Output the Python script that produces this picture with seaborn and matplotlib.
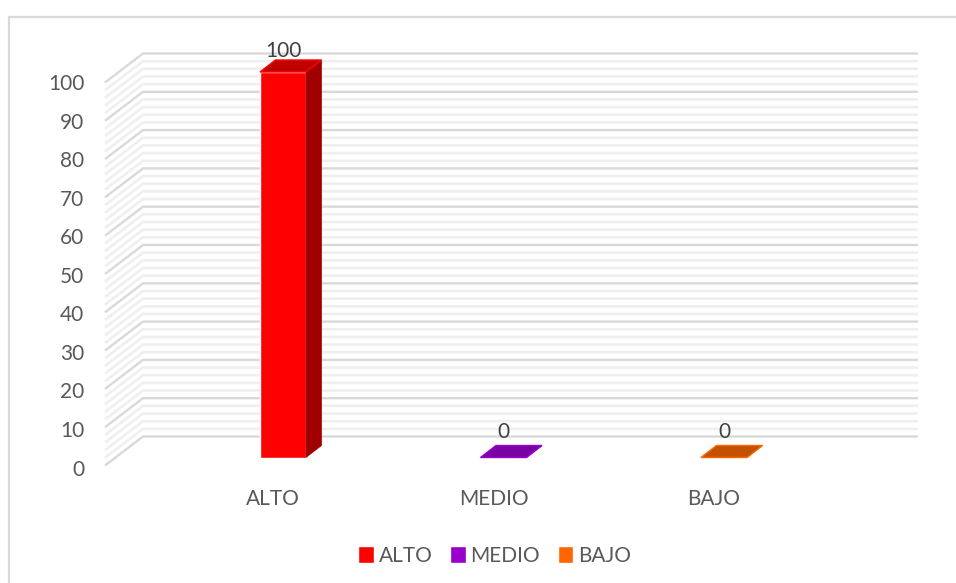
import numpy as np
import matplotlib
matplotlib.use("Agg")
import matplotlib.pyplot as plt
import seaborn as sns
from matplotlib.patches import Patch, Polygon, Rectangle
from matplotlib.transforms import Affine2D

categorias = ["ALTO", "MEDIO", "BAJO"]
valores = [100, 0, 0]
colores = ["#ff0000", "#9900cc", "#ff6600"]
colores_techo = ["#c00000", "#7a00a3", "#c25000"]
colores_lado = ["#a00000", "#7a00a3", "#c25000"]
ticks_y = list(range(0, 101, 10))
ticks_menores = [v for v in range(0, 101, 2) if v % 10 != 0]

W, H = 956, 583
sns.set_style("white")
plt.rcParams["font.family"] = ["Lato", "DejaVu Sans"]

fig = plt.figure(figsize=(W / 100, H / 100), dpi=100, facecolor="white")


def caja(x0, x1, y_arriba, y_abajo):
    return [x0 / W, 1 - y_abajo / H, (x1 - x0) / W, (y_abajo - y_arriba) / H]


# marco exterior del grafico
fig.add_artist(Rectangle((8.5 / W, -0.05), 1.0, 1 - 17 / H + 0.05, transform=fig.transFigure,
                         fill=False, edgecolor="#d9d9d9", linewidth=1.6))

# paredes con las lineas de la rejilla
ax_pared = fig.add_axes(caja(105, 918, 53.5, 436.5))
ax_pared.set_xlim(0, 1)
ax_pared.set_ylim(0, 100)
ax_pared.axis("off")
prof_x = 38 / 813
prof_y = 29 / 3.83
for v in ticks_menores:
    ax_pared.plot([0, prof_x, 1], [v - prof_y, v, v], color="#efefef", lw=1.9,
                  clip_on=False, solid_joinstyle="miter", solid_capstyle="butt")
for v in ticks_y:
    ax_pared.plot([0, prof_x, 1], [v - prof_y, v, v], color="#d9d9d9", lw=1.7,
                  clip_on=False, solid_joinstyle="miter", solid_capstyle="butt")

# barras
ax = fig.add_axes(caja(105, 918, 72, 457.5))
ax.patch.set_alpha(0)
sns.barplot(x=categorias, y=valores, hue=categorias, palette=colores, width=46 / 220.5,
            dodge=False, legend=False, saturation=1, ax=ax)
ax.set_xlim((105 - 283) / 220.5, (918 - 283) / 220.5)
ax.set_ylim(0, 100)
sns.despine(ax=ax, left=True, bottom=True)
ax.set_xlabel("")
ax.set_ylabel("")

dx = 15.5 / 220.5
dy = 12 / 3.855
barras = [p for p in ax.patches]
for i, p in enumerate(barras):
    x0, x1 = p.get_x(), p.get_x() + p.get_width()
    h = p.get_height()
    ax.add_patch(Polygon([(x1, 0), (x1 + dx, dy), (x1 + dx, h + dy), (x1, h)],
                         facecolor=colores_lado[i], edgecolor=colores_lado[i], lw=0.5, clip_on=False))
    ax.add_patch(Polygon([(x0, h), (x1, h), (x1 + dx, h + dy), (x0 + dx, h + dy)],
                         facecolor=colores_techo[i], edgecolor=colores[i], lw=1, clip_on=False))
    sep = 11 if h > 0 else 15
    ax.annotate(str(valores[i]), (i, h), xytext=(0, sep), textcoords="offset pixels", ha="center", va="bottom",
                fontsize=15, color="#404040", annotation_clip=False)

# ejes: las etiquetas van desplazadas como en la perspectiva original
ax.set_yticks(ticks_y)
ax.set_yticklabels([str(v) for v in ticks_y])
ax.set_xticks(range(len(categorias)))
ax.set_xticklabels(categorias)
ax.tick_params(axis="both", length=0, labelsize=15, labelcolor="#595959")
ax.tick_params(axis="y", pad=15)
ax.tick_params(axis="x", pad=22.5)
for lab in ax.get_yticklabels():
    lab.set_transform(lab.get_transform() + Affine2D().translate(0, -10))
for lab in ax.get_xticklabels():
    lab.set_transform(lab.get_transform() + Affine2D().translate(-10, 0))

manijas = [Patch(facecolor=c, label=n) for c, n in zip(colores, categorias)]
fig.legend(handles=manijas, loc="center", bbox_to_anchor=(494.5 / W, 1 - 555.5 / H), ncol=3, frameon=False,
           fontsize=15, labelcolor="#595959", handlelength=0.75, handleheight=0.85, handletextpad=0.22,
           columnspacing=0.85, borderpad=0)

fig.savefig("out.png", dpi=100, facecolor="white")
